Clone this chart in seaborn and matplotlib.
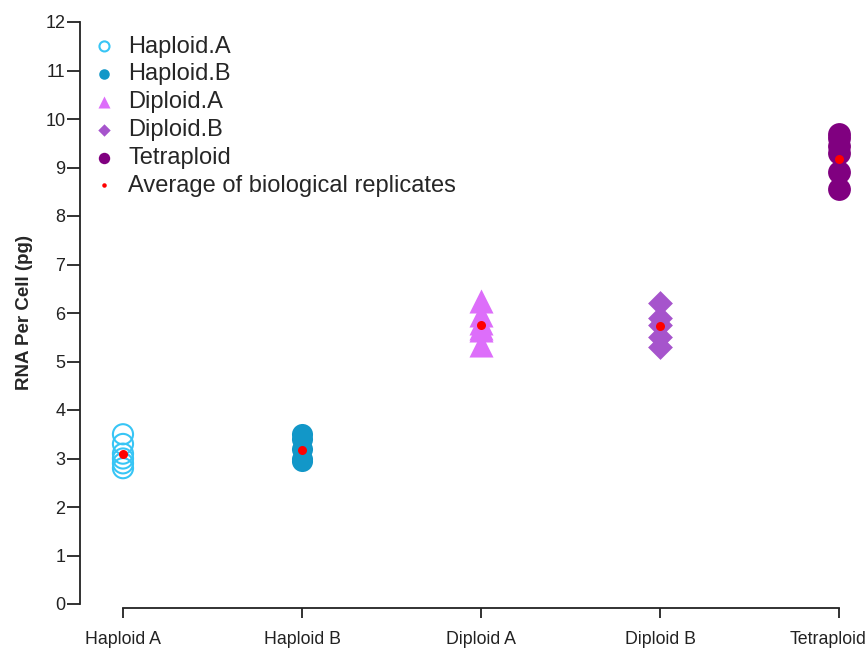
import matplotlib
matplotlib.use("Agg")
import matplotlib.pyplot as plt
import matplotlib.transforms as mtransforms
import seaborn as sns
import pandas as pd

categories = ["Haploid A", "Haploid B", "Diploid A", "Diploid B", "Tetraploid"]
legend_names = ["Haploid.A", "Haploid.B", "Diploid.A", "Diploid.B", "Tetraploid"]
haploid_a = [3.5, 3.3, 3.1, 3.0, 2.9, 2.8]
haploid_b = [3.5, 3.4, 3.2, 3.0, 2.95]
diploid_a = [6.25, 5.95, 5.8, 5.7, 5.65, 5.35]
diploid_b = [6.2, 5.9, 5.75, 5.5, 5.3]
tetraploid = [9.7, 9.6, 9.45, 9.3, 8.9, 8.55]
averages = [3.1, 3.18, 5.76, 5.73, 9.18]
y_ticks = list(range(0, 13))

series = [haploid_a, haploid_b, diploid_a, diploid_b, tetraploid]
colors = ["#38C5F5", "#1297C8", "#DD6EFA", "#A654CC", "#800080"]
markers = ["o", "o", "^", "D", "o"]
sizes = [210, 230, 300, 160, 270]

sns.set_style("white")
plt.rcParams["font.family"] = ["Liberation Sans", "DejaVu Sans"]

fig = plt.figure(figsize=(8.67, 6.5), dpi=100)
ax = fig.add_axes([80 / 867, 1 - 604 / 650, (850 - 80) / 867, (604 - 22) / 650])

for i, (vals, name) in enumerate(zip(series, legend_names)):
    df = pd.DataFrame({"cat": [categories[i]] * len(vals), "val": vals})
    kw = dict(marker=markers[i], s=sizes[i] ** 0.5, jitter=False, label=name, zorder=2)
    if i == 0:
        sns.stripplot(data=df, x="cat", y="val", order=categories, ax=ax,
                      color="none", edgecolor=colors[i], linewidth=1.5, **kw)
    else:
        sns.stripplot(data=df, x="cat", y="val", order=categories, ax=ax,
                      color=colors[i], linewidth=0, **kw)

avg_df = pd.DataFrame({"cat": categories, "val": averages})
sns.stripplot(data=avg_df, x="cat", y="val", order=categories, ax=ax,
              color="#FF0000", s=6.5, jitter=False, linewidth=0,
              label="Average of biological replicates", zorder=3)

ax.set_ylim(0, 12)
ax.set_xlim(-0.24, 4.06)
ax.set_yticks(y_ticks)
ax.set_yticklabels([str(t) for t in y_ticks])
ax.set_xticks(range(len(categories)))
ax.set_xticklabels(categories)
ax.set_xlabel("")
ax.set_ylabel("RNA Per Cell (pg)", fontsize=13.5, fontweight="bold", labelpad=9)

for s in ["top", "right"]:
    ax.spines[s].set_visible(False)
ax.spines["left"].set_bounds(0, 12)
ax.spines["bottom"].set_bounds(0, 4)
ax.spines["bottom"].set_position(("outward", 3))
for s in ["left", "bottom"]:
    ax.spines[s].set_color("#222222")
    ax.spines[s].set_linewidth(1.3)
ax.tick_params(axis="y", direction="out", length=9.5, width=1.3, color="#222222",
               pad=1, left=True, labelsize=13, labelcolor="#222222")
ax.tick_params(axis="x", direction="out", length=7.5, width=1.3, color="#222222",
               pad=9, bottom=True, labelsize=12.8, labelcolor="#222222")

fig.canvas.draw()
# last label sits flush with the right edge, as in the reference
last = ax.get_xticklabels()[-1]
last.set_horizontalalignment("right")
last.set_transform(last.get_transform() + mtransforms.ScaledTranslation(0.27, 0, fig.dpi_scale_trans))

handles, labels = ax.get_legend_handles_labels()
seen = {}
for h, l in zip(handles, labels):
    if l not in seen:
        seen[l] = h
leg = ax.legend(list(seen.values()), list(seen.keys()), loc="upper left",
                bbox_to_anchor=(-0.005, 1.005), frameon=False, fontsize=17,
                markerscale=0.5, handletextpad=0.5, labelspacing=0.245,
                borderaxespad=0.3, handlelength=1.0)

fig.savefig("out.png", dpi=100)
